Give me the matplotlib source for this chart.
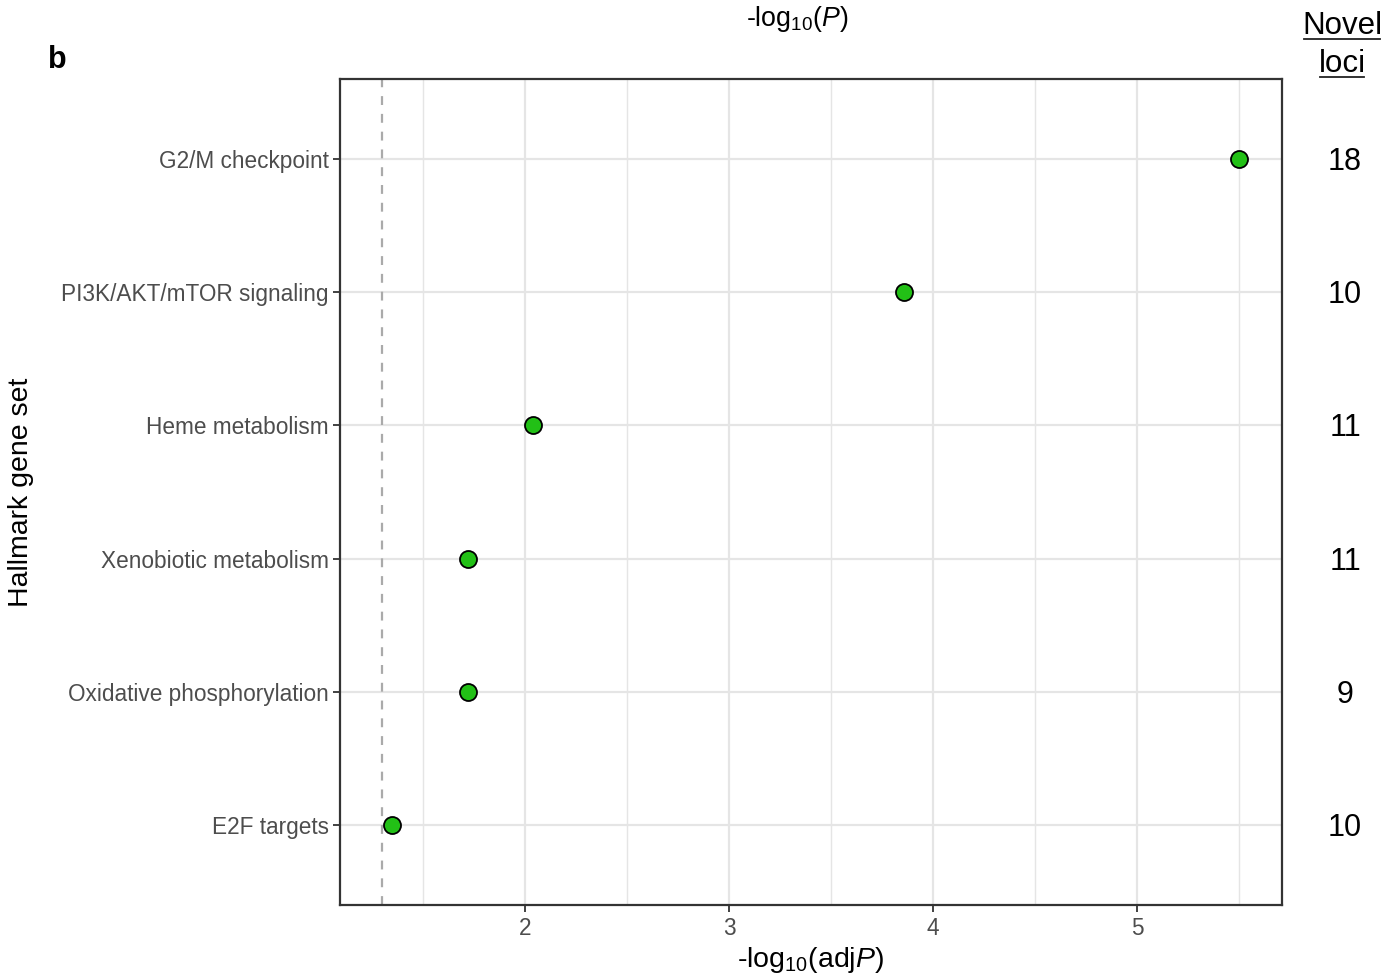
import numpy as np
import matplotlib
matplotlib.use('Agg')
import matplotlib.pyplot as plt

plt.rcParams['font.family'] = ['Liberation Sans', 'DejaVu Sans']
plt.rcParams['mathtext.fontset'] = 'custom'
plt.rcParams['mathtext.rm'] = 'Liberation Sans'
plt.rcParams['mathtext.it'] = 'Liberation Sans:italic'

gene_sets = ['E2F targets', 'Oxidative phosphorylation', 'Xenobiotic metabolism',
             'Heme metabolism', 'PI3K/AKT/mTOR signaling', 'G2/M checkpoint']
neg_log_adjp = [1.35, 1.72, 1.72, 2.04, 3.86, 5.50]
novel_loci = [10, 9, 11, 11, 10, 18]
threshold = -np.log10(0.05)

fig = plt.figure(figsize=(13.88, 9.77), dpi=100)
ax = fig.add_axes([340/1388, 72/977, 942/1388, 826/977])

ypos = np.arange(1, len(gene_sets) + 1)

ax.set_xlim(1.093, 5.711)
ax.set_ylim(0.4, 6.6)

# grid: major + minor vertical, major horizontal
for x in np.arange(1.5, 6, 0.5):
    lw = 1.6 if x == int(x) else 1.0
    ax.axvline(x, color='#e5e5e5', lw=lw, zorder=0)
for y in ypos:
    ax.axhline(y, color='#e5e5e5', lw=1.6, zorder=0)

ax.axvline(threshold, color='#aaaaaa', lw=1.6, ls=(0, (4, 4)), zorder=1)
ax.scatter(neg_log_adjp, ypos, s=150, color='#22c016', edgecolor='black',
           linewidth=1.3, zorder=3)

ax.set_xticks([2, 3, 4, 5])
ax.set_yticks(ypos)
ax.set_yticklabels(gene_sets)
ax.tick_params(axis='both', labelsize=16.3, labelcolor='#4d4d4d', color='#333333',
               length=5, width=1.3)
ax.tick_params(axis='y', pad=3)
for s in ax.spines.values():
    s.set_color('#333333')
    s.set_linewidth(1.6)

ax.set_xlabel(r'-log$_{10}$(adj$\mathit{P}$)', fontsize=20.5, labelpad=4)
ax.set_ylabel('Hallmark gene set', fontsize=20.5)
ax.yaxis.set_label_coords(-(340 - 34) / 942, 0.5)

fig.text(797/1388, 1 - 19/977, r'-log$_{10}$($\mathit{P}$)', fontsize=19.3,
         ha='center', va='center')
fig.text(57/1388, 1 - 60/977, 'b', fontsize=22, fontweight='bold',
         ha='center', va='center')

t1 = fig.text(1342/1388, 1 - 26/977, 'Novel', fontsize=22.5, ha='center', va='center')
t2 = fig.text(1342/1388, 1 - 64/977, 'loci', fontsize=22.5, ha='center', va='center')
fig.canvas.draw()
r = fig.canvas.get_renderer()
for t in (t1, t2):
    bb = t.get_window_extent(r).transformed(fig.transFigure.inverted())
    pad = 2 / 1388
    fig.add_artist(plt.Line2D([bb.x0 + pad, bb.x1 - pad], [bb.y0 + 0.002, bb.y0 + 0.002],
                              transform=fig.transFigure, color='#222222', lw=1.3))

for y, n in zip(ypos, novel_loci):
    yf = fig.transFigure.inverted().transform(ax.transData.transform((1.5, y)))[1]
    fig.text(1345/1388, yf - 3/977, str(n), fontsize=22, ha='center', va='center')

fig.savefig('out.png', dpi=100)
